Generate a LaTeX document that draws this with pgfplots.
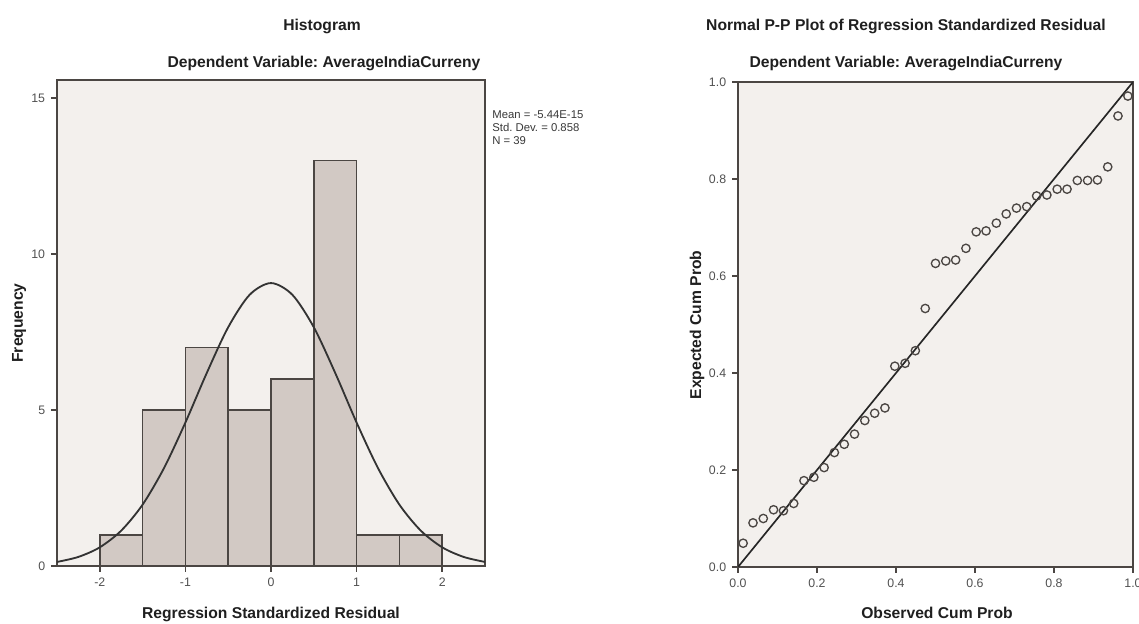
\documentclass[border=0pt]{standalone}
\usepackage{fontspec}
\setmainfont{Liberation Sans}
\usepackage{pgfplots}
\pgfplotsset{compat=1.18}
\definecolor{plotbg}{RGB}{243,240,237}
\definecolor{barfill}{RGB}{210,201,196}
\definecolor{framec}{RGB}{75,70,67}
\definecolor{tickc}{RGB}{80,80,80}

% 1px of the reference = 0.6pt
\pgfplotsset{
  spss/.style={
    scale only axis, anchor=south west,
    axis background/.style={fill=plotbg},
    axis line style={draw=framec, line width=1.1pt},
    tick align=outside, major tick length=3.6pt,
    tick style={draw=framec, line width=0.9pt},
    xtick pos=bottom, ytick pos=left,
    ticklabel style={font=\fontsize{7.4}{8}\selectfont, text=tickc},
    /pgf/number format/assume math mode=true,
  },
}
\tikzset{
  ttl/.style={font=\fontsize{9.4}{11}\selectfont\bfseries, text=black!88, anchor=base, inner sep=0pt},
}

\begin{document}
\frenchspacing
\begin{tikzpicture}
\useasboundingbox (0,0) rectangle (683.4pt,374.4pt);

% ---------- histogram ----------
\begin{axis}[spss,
  at={(34.2pt,34.8pt)}, width=256.8pt, height=291.6pt,
  xmin=-2.5, xmax=2.5, ymin=0, ymax=15.58,
  xtick={-2,-1,0,1,2}, ytick={0,5,10,15},
]
  \addplot[ybar interval, fill=barfill, draw=framec, line width=1pt] coordinates {
    (-2,1) (-1.5,5) (-1,7) (-0.5,5) (0,6) (0.5,13) (1,1) (1.5,1) (2,1)
  };
  \addplot[smooth, black!80, line width=1.1pt] coordinates {
    (-2.5,0.130) (-2.25,0.291) (-2,0.599) (-1.75,1.133) (-1.5,1.967)
    (-1.25,3.138) (-1,4.599) (-0.75,6.190) (-0.5,7.654) (-0.25,8.693)
    (0,9.070)
    (0.25,8.693) (0.5,7.654) (0.75,6.190) (1,4.599) (1.25,3.138)
    (1.5,1.967) (1.75,1.133) (2,0.599) (2.25,0.291) (2.5,0.130)
  };
\end{axis}

\node[ttl] at (193.2pt,355.8pt) {Histogram};
\node[ttl] at (194.4pt,333.6pt) {Dependent Variable: AverageIndiaCurreny};
\node[ttl] at (162.6pt,3pt) {Regression Standardized Residual};
\node[ttl, rotate=90, anchor=center] at (11.4pt,180.6pt) {Frequency};
\node[anchor=north west, align=left, inner sep=0pt, text=black!78,
      font=\fontsize{6.8}{7.8}\selectfont] at (295.2pt,308.4pt)
  {Mean = -5.44E-15\\Std. Dev. = 0.858\\N = 39};

% ---------- P-P plot ----------
\begin{axis}[spss,
  at={(442.8pt,34.2pt)}, width=237pt, height=291pt,
  xmin=0, xmax=1, ymin=0, ymax=1,
  xtick={0,0.2,...,1}, ytick={0,0.2,...,1},
  xticklabel style={/pgf/number format/.cd, fixed, fixed zerofill, precision=1},
  yticklabel style={/pgf/number format/.cd, fixed, fixed zerofill, precision=1},
]
  \addplot[black!85, line width=1pt] coordinates {(0,0) (1,1)};
  \addplot[only marks, mark=o, mark size=2.5pt, draw=framec,
           mark options={line width=0.8pt}] coordinates {
    (0.013,0.049) (0.038,0.091) (0.064,0.100) (0.090,0.118) (0.115,0.116)
    (0.141,0.131) (0.167,0.178) (0.192,0.185) (0.218,0.205) (0.244,0.236)
    (0.269,0.253) (0.295,0.274) (0.321,0.302) (0.346,0.317) (0.372,0.328)
    (0.397,0.414) (0.423,0.420) (0.449,0.446) (0.474,0.533) (0.500,0.626)
    (0.526,0.631) (0.551,0.633) (0.577,0.657) (0.603,0.691) (0.628,0.693)
    (0.654,0.709) (0.679,0.728) (0.705,0.740) (0.731,0.743) (0.756,0.765)
    (0.782,0.767) (0.808,0.779) (0.833,0.779) (0.859,0.797) (0.885,0.797)
    (0.910,0.798) (0.936,0.825) (0.962,0.930) (0.987,0.971)
  };
\end{axis}

\node[ttl] at (543.6pt,355.8pt) {Normal P-P Plot of Regression Standardized Residual};
\node[ttl] at (543.6pt,333.6pt) {Dependent Variable: AverageIndiaCurreny};
\node[ttl] at (562.2pt,3pt) {Observed Cum Prob};
\node[ttl, rotate=90, anchor=center] at (418.2pt,179.4pt) {Expected Cum Prob};
\end{tikzpicture}
\end{document}
